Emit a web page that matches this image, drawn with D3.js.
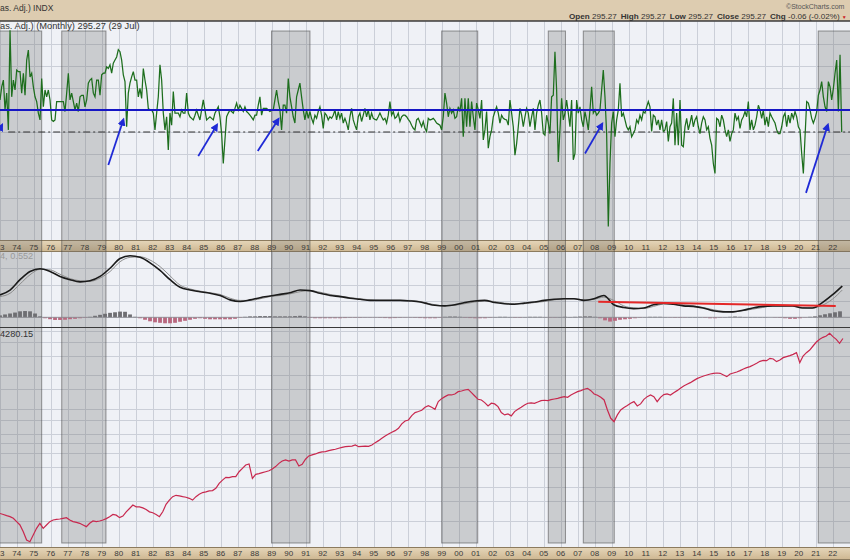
<!DOCTYPE html>
<html><head><meta charset="utf-8">
<script src="https://cdn.jsdelivr.net/npm/d3@7"></script>
<style>
html,body{margin:0;padding:0;background:#fff;}
svg{display:block;}
text{font-family:"Liberation Sans",Arial,sans-serif;}
</style></head>
<body>
<svg id="chart" width="850" height="560"></svg>
<script>
// ---------------- DATA ----------------
const yearTicks = d3.range(1973, 2023);

// Top panel: monthly change line (3 consecutive stretches)
const greenPeriods = [[1973.02, 1990.66], [1990.66, 2008.31], [2008.31, 2022.53]];
const greenA = [0.61,0.86,0.99,0.42,0.74,0.04,1.94,0.67,0.99,0.80,
1.18,1.15,1.15,0.74,1.12,0.70,1.37,1.56,1.05,1.12,
0.86,0.67,0.58,0.36,0.23,1.02,0.48,0.80,0.67,0.80,
0.61,0.23,0.20,0.23,0.58,0.58,0.58,0.58,0.58,0.39,
0.74,1.12,0.61,0.74,0.58,0.42,0.55,0.39,0.67,0.70,
0.70,0.48,0.61,0.93,0.99,1.02,0.74,0.67,0.99,0.99,
0.70,1.09,1.12,1.12,1.24,1.21,1.28,1.12,1.31,1.37,
1.43,1.57,1.53,1.37,1.09,0.96,0.10,0.74,0.93,1.05,
1.15,0.99,0.99,0.67,0.83,0.64,1.21,0.99,0.80,0.45,
0.42,0.42,0.36,0.04,0.36,0.67,1.28,0.99,0.36,0.04,
0.29,-0.34,0.36,0.13,0.77,0.36,0.36,0.36,0.29,0.42,
0.36,0.36,0.74,0.36,0.29,0.26,0.23,0.32,0.42,0.32,
0.23,0.42,0.61,0.42,0.23,0.26,0.29,0.26,0.23,0.36,
0.42,0.48,0.29,-0.03,-0.60,-0.15,0.29,0.36,0.42,0.39,
0.36,0.45,0.55,0.42,0.51,0.45,0.39,0.48,0.39,0.36,
0.32,0.28,0.23,0.32,0.32,0.51,0.67,0.32,0.45,0.45,
0.45,0.42,0.39,0.41,0.42,0.61,0.80,0.58,0.42,0.04,
0.51,0.51,0.36,1.02,0.67,0.48,0.29,0.17,0.67,0.80];
const greenB = [0.93,0.67,0.42,0.23,0.42,0.26,0.39,0.26,0.17,0.32,
0.26,0.39,0.48,0.32,0.07,0.36,0.32,0.23,0.29,0.26,
0.32,0.42,0.23,0.39,0.26,0.36,0.17,0.26,0.17,0.04,
0.29,0.45,0.23,0.13,0.04,0.29,0.36,0.20,0.32,0.45,
0.29,0.42,0.23,0.36,0.26,0.24,0.23,0.29,0.36,0.29,
0.23,0.26,0.17,0.32,0.58,0.32,0.39,0.26,0.29,0.36,
0.20,0.29,0.32,0.32,0.29,0.24,0.20,0.13,0.07,0.04,
0.23,0.26,0.18,0.10,0.20,0.07,0.01,0.26,0.23,0.24,
0.26,0.22,0.17,0.15,0.13,0.04,0.29,0.74,0.55,0.29,
0.45,0.36,0.42,0.26,0.29,0.48,0.39,0.64,-0.09,0.64,
0.10,0.64,0.10,0.58,0.29,0.04,0.55,0.42,0.26,0.61,
-0.15,0.04,0.39,-0.31,-0.09,0.04,0.29,0.39,0.48,0.36,
0.17,0.32,0.26,0.24,0.23,0.13,0.61,0.36,0.10,-0.44,
-0.22,0.10,0.45,0.32,0.10,0.29,0.45,0.36,0.10,0.29,
0.45,0.04,0.36,0.51,0.61,0.36,-0.03,-0.06,0.32,0.17,
-0.03,0.67,0.70,1.53,0.80,-0.57,0.04,0.64,0.23,0.36,
0.61,0.36,0.10,0.61,-0.53,-0.41,0.61,0.36,0.48,0.23,
0.10,0.39,0.23,0.04,0.42,0.86,0.36,0.42,0.32,0.36];
const greenC = [0.42,0.80,1.18,0.67,-0.03,-1.80,-0.60,0.17,0.39,-0.09,
0.23,0.42,0.93,0.29,0.36,0.23,0.10,0.04,0.10,-0.09,
-0.03,0.04,0.23,0.17,0.32,0.23,0.39,0.36,0.48,0.58,
0.48,0.01,0.32,0.29,0.13,0.23,0.04,0.23,0.01,0.04,
0.20,-0.18,0.10,0.17,0.64,-0.25,0.36,-0.25,0.61,-0.25,
-0.28,0.10,0.26,0.04,0.17,0.32,0.10,0.23,0.29,0.10,
-0.03,0.17,0.29,0.23,0.04,0.10,-0.12,-0.25,-0.60,-0.79,
0.26,0.23,0.10,0.32,0.23,0.04,-0.09,0.04,-0.18,-0.03,
0.04,0.36,0.23,0.29,0.07,0.23,0.29,0.39,0.29,0.58,
0.04,0.23,0.04,0.13,0.29,0.51,0.42,0.26,0.42,0.13,
0.29,0.10,0.36,0.29,0.23,0.17,0.04,-0.03,-0.03,0.10,
0.29,0.36,0.10,0.32,0.17,0.36,0.26,0.39,0.29,0.10,
0.04,-0.41,-0.79,-0.09,0.58,0.55,0.42,0.26,0.17,0.26,
0.39,0.70,0.80,0.96,0.67,0.48,0.39,0.96,0.86,0.61,
0.83,1.12,1.37,0.39,1.47,0.00];
const blueLevel = 0.42;
const dashLevel = 0;
const dashStart = 1973.5;

// annotation arrows [year, value] -> [year, value]
const arrowFrom = [[1972.20,-0.45],[1979.39,-0.63],[1984.68,-0.46],[1988.18,-0.36],[2007.43,-0.41],[2020.43,-1.16]];
const arrowTo   = [[1973.13, 0.13],[1980.27, 0.23],[1985.77, 0.13],[1989.39, 0.24],[2008.43, 0.15],[2021.71, 0.13]];

// Shaded periods
const shadeStart = [1972.90, 1976.65, 1988.99, 1999.00, 2005.27, 2007.33, 2021.15];
const shadeEnd   = [1975.47, 1979.25, 1991.25, 2001.12, 2006.28, 2009.15, 2023.30];

// Middle panel: MACD line, signal, histogram
const macdPeriods = [[1973.02, 1997.73], [1998.02, 2022.56]];
const macdA = [0.41,0.50,0.69,0.84,0.89,0.84,0.75,0.69,0.65,0.67,0.75,0.90,1.08,1.13,1.10,1.00,0.86,0.69,0.55,0.50,0.47,0.44,0.40,0.32,0.29,0.32,0.36,0.39,0.42,0.45,0.50,0.49,0.44,0.40,0.38,0.35,0.33,0.31,0.31,0.31,0.31,0.30,0.28];
const macdB = [0.26,0.22,0.21,0.23,0.27,0.30,0.31,0.27,0.25,0.24,0.26,0.28,0.31,0.33,0.34,0.34,0.31,0.34,0.40,0.23,0.18,0.16,0.17,0.23,0.26,0.24,0.21,0.20,0.17,0.12,0.10,0.10,0.13,0.17,0.20,0.21,0.21,0.21,0.17,0.17,0.27,0.41,0.574];
const signalA = [0.38,0.44,0.61,0.78,0.88,0.87,0.79,0.71,0.67,0.66,0.72,0.84,1.02,1.10,1.11,1.05,0.93,0.76,0.59,0.52,0.48,0.45,0.42,0.35,0.31,0.31,0.34,0.38,0.40,0.43,0.47,0.49,0.46,0.42,0.39,0.36,0.34,0.32,0.31,0.31,0.31,0.31,0.29];
const signalB = [0.27,0.23,0.21,0.22,0.25,0.28,0.30,0.29,0.26,0.25,0.25,0.27,0.29,0.32,0.34,0.34,0.32,0.33,0.37,0.31,0.21,0.17,0.16,0.20,0.24,0.24,0.23,0.21,0.18,0.14,0.11,0.10,0.12,0.15,0.18,0.21,0.21,0.21,0.18,0.17,0.22,0.33,0.50];
const histPeriod = [1973.02, 2022.43];
const histValues = [0.02,0.03,0.04,0.05,0.063,0.066,0.063,0.04,0.01,-0.01,
-0.02,-0.028,-0.028,-0.026,-0.02,-0.016,-0.01,-0.005,0.005,0.016,
0.026,0.037,0.047,0.053,0.06,0.058,0.03,0.005,-0.01,-0.026,
-0.042,-0.053,-0.058,-0.063,-0.063,-0.058,-0.047,-0.037,-0.026,-0.016,
-0.01,-0.016,-0.021,-0.021,-0.021,-0.021,-0.021,-0.016,-0.005,0.005,
0.01,0.01,0.013,0.013,0.013,0.01,0.01,0.01,0.01,0.013,
0.016,0.01,-0.005,-0.01,-0.01,-0.01,-0.01,-0.01,-0.01,-0.008,
-0.005,-0.005,-0.005,-0.003,-0.003,-0.003,-0.005,-0.008,-0.01,-0.008,
-0.005,-0.003,-0.003,-0.005,-0.008,-0.01,-0.01,-0.01,-0.005,0.005,
0.008,0.008,0.005,-0.005,-0.008,-0.01,-0.01,-0.01,-0.005,0.003,
0.005,0.005,0.003,-0.005,-0.005,0.003,0.005,0.005,0.005,0.003,
-0.003,-0.003,0.003,0.005,0.003,0.005,0.008,0.01,0.01,0.005,
-0.01,-0.032,-0.045,-0.037,-0.026,-0.021,-0.016,-0.01,-0.005,0.003,
0.005,0.005,0.005,0.003,-0.003,-0.005,-0.005,-0.003,0.003,0.003,
0.003,-0.005,-0.01,-0.01,-0.005,0.003,0.005,0.008,0.005,0.003,
0.003,0.003,0.003,0.003,0,-0.003,-0.005,-0.01,-0.016,-0.016,
-0.01,-0.003,0.005,0.01,0.021,0.032,0.042,0.053,0.063];
const trendFrom = [2008.21, 0.286];
const trendTo = [2022.18, 0.207];

// Bottom panel: price (log scale)
const pricePeriods = [[1973.02, 1998.02], [1998.02, 2022.60]];
const priceA = [116,113.6,110.9,108.6,105,98,91.5,79.7,67.1,64.8,
74.4,85.4,94.7,85.4,91.5,98,101.4,102.8,103.5,105,
106.4,101.4,98,96.6,94.7,91.5,88.4,94.7,99.3,98,
99.3,101.4,104.3,108.6,113.6,112,106.4,110,120,128.5,
138,133,133,130.3,126,120,117.7,113.6,108.6,120,
140,153,164,168.7,166.5,164,162,158.5,153,164,
172.5,178.6,181,185,186,195,216,231,244.7,243,
248,248,274.5,294,315,322,239.5,260,263.5,269,
274.5,280,290,305,326,342,350,342,350,350,
309,320,355,380,388,396,407,413,416,424,
430,436,445,454,460,463,466,476,460,463,
466,463,476,500,521,547,574,598,619,640,
672,736,782,798,873,929,950,974];
const priceB = [1037,1073,1037,995,1165,1238,1291,1336,1336,1364,
1431,1451,1481,1502,1402,1309,1222,1206,1142,1066,
1126,1111,1051,929,886,904,868,948,995,1037,
1088,1126,1134,1126,1157,1190,1198,1190,1214,1230,
1247,1273,1291,1273,1336,1383,1431,1461,1502,1533,
1461,1364,1327,1273,1206,981,826,771,886,981,
1030,1073,1126,1165,1066,1111,1222,1291,1336,1291,
1165,1273,1346,1364,1336,1402,1461,1533,1607,1664,
1723,1796,1871,1923,1977,2018,2060,2088,2102,2088,
2018,1950,2060,2102,2146,2206,2283,2347,2396,2481,
2566,2675,2730,2712,2845,2806,2657,2749,2884,2944,
3005,3089,3197,2603,2985,3197,3377,3668,3983,4209,
4386,4508,4764,4446,4209,3874,4280.15];
const priceGrid = [100,150,200,300,400,500,600,800,1000,1500,2000,3000,4000,5000];

// Texts
const headerLeft = "as. Adj.) INDX";
const panelTitle = "as. Adj.) (Monthly) 295.27 (29 Jul)";
const macdLabel = "4, 0.552";
const priceLabel = "4280.15";
const quote = [["Open","295.27"],["High","295.27"],["Low","295.27"],["Close","295.27"],["Chg","-0.06 (-0.02%)"]];

// ---------------- LAYOUT ----------------
const W = 850, H = 560;
const P1 = {top: 21.5, bottom: 240};
const A1 = {top: 240, bottom: 252};
const P2 = {top: 252, bottom: 327.5};
const P3 = {top: 327.5, bottom: 547};
const A2 = {top: 547, bottom: 560};

const svg = d3.select('#chart');
const x = d3.scaleLinear().domain([1973.018, 2023.018]).range([0, W]);
const yTop = d3.scaleLinear().domain([-2, 2]).range([237, 27]);
const yMid = d3.scaleLinear().domain([-0.2, 1.2]).range([328.2, 251.9]);
const yHist = d3.scaleLinear().domain([-0.14, 0.14]).range([330.6, 304]);
const yPrice = d3.scaleLog().domain([58.1, 5317]).range([547, 328]);

function spread(values, period, inclusive) {
  const n = values.length, step = (period[1] - period[0]) / (inclusive ? n - 1 : n);
  return values.map((v, i) => ({t: period[0] + i * step, v}));
}
const green = [].concat(spread(greenA, greenPeriods[0], false), spread(greenB, greenPeriods[1], false), spread(greenC, greenPeriods[2], true));
const macd = [].concat(spread(macdA, macdPeriods[0], true), spread(macdB, macdPeriods[1], true));
const signal = [].concat(spread(signalA, macdPeriods[0], true), spread(signalB, macdPeriods[1], true));
const hist = spread(histValues, histPeriod, true);
const price = [].concat(spread(priceA, pricePeriods[0], false), spread(priceB, pricePeriods[1], true));

const defs = svg.append('defs');
const tanGrad = defs.append('linearGradient').attr('id','tan').attr('x1',0).attr('x2',0).attr('y1',0).attr('y2',1);
tanGrad.append('stop').attr('offset','0%').attr('stop-color','#e6d7bb');
tanGrad.append('stop').attr('offset','100%').attr('stop-color','#cdb690');
defs.append('marker').attr('id','ah').attr('viewBox','0 0 10 10').attr('refX',7).attr('refY',5)
  .attr('markerWidth',4.5).attr('markerHeight',4.5).attr('orient','auto')
  .append('path').attr('d','M0,0L10,5L0,10z').attr('fill','#1f2ad6');
[['c1',P1],['c2',P2],['c3',P3]].forEach(([id,p]) => {
  defs.append('clipPath').attr('id',id).append('rect').attr('x',0).attr('y',p.top).attr('width',W).attr('height',p.bottom-p.top);
});

// backgrounds
svg.append('rect').attr('x',0).attr('y',0).attr('width',W).attr('height',21).attr('fill','#ddccb0');
[P1,P2,P3].forEach(p => svg.append('rect').attr('x',0).attr('y',p.top).attr('width',W).attr('height',p.bottom-p.top).attr('fill','#eff1f6'));
[A1,A2].forEach(a => {
  svg.append('rect').attr('x',0).attr('y',a.top).attr('width',W).attr('height',a.bottom-a.top).attr('fill','url(#tan)');
  svg.append('line').attr('x1',0).attr('x2',W).attr('y1',a.top+0.5).attr('y2',a.top+0.5).attr('stroke','#8c7b5e');
  svg.append('line').attr('x1',0).attr('x2',W).attr('y1',a.bottom-0.5).attr('y2',a.bottom-0.5).attr('stroke','#8c7b5e');
});

// grids
const grid = svg.append('g').attr('stroke','#cbcfd8').attr('stroke-width',1);
[P1,P2,P3].forEach(p => {
  grid.selectAll(null).data(yearTicks).enter().append('line')
    .attr('x1',d=>Math.round(x(d))+0.5).attr('x2',d=>Math.round(x(d))+0.5)
    .attr('y1',p.top).attr('y2',p.bottom);
});
grid.selectAll(null).data(d3.range(-4,5).map(k=>k*0.42)).enter().append('line')
  .attr('x1',0).attr('x2',W).attr('y1',d=>Math.round(yTop(d))+0.5).attr('y2',d=>Math.round(yTop(d))+0.5);
grid.selectAll(null).data([0,0.3,0.6,0.9]).enter().append('line')
  .attr('x1',0).attr('x2',W).attr('y1',d=>Math.round(yMid(d))+0.5).attr('y2',d=>Math.round(yMid(d))+0.5);
grid.selectAll(null).data(priceGrid).enter().append('line')
  .attr('x1',0).attr('x2',W).attr('y1',d=>Math.round(yPrice(d))+0.5).attr('y2',d=>Math.round(yPrice(d))+0.5);

// shaded periods
svg.append('g').selectAll('rect').data(shadeStart).enter().append('rect')
  .attr('x',(d)=>x(d)).attr('width',(d,i)=>x(shadeEnd[i])-x(d))
  .attr('y',31).attr('height',543-31)
  .attr('fill','rgba(105,105,105,0.27)').attr('stroke','rgba(70,70,70,0.55)').attr('stroke-width',1);

// panel separators
svg.append('line').attr('x1',0).attr('x2',W).attr('y1',21).attr('y2',21).attr('stroke','#3a3a3a').attr('stroke-width',1.5);
svg.append('line').attr('x1',0).attr('x2',W).attr('y1',327.5).attr('y2',327.5).attr('stroke','#3a3a3a').attr('stroke-width',1.2);

// year labels (the first year sits at the left edge; only its visible digit is shown, as in the reference)
[[A1, 249.5],[A2, 556]].forEach(([a, yy]) => {
  svg.append('g').selectAll('text').data(yearTicks).enter().append('text')
    .attr('x',d=> d === yearTicks[0] ? 0 : x(d)).attr('y',yy)
    .attr('text-anchor',d=> d === yearTicks[0] ? 'start' : 'middle')
    .attr('font-size',8).attr('fill','#3a3a3a')
    .text(d=> d === yearTicks[0] ? String(d%10) : String(d%100).padStart(2,'0'));
});

// top panel
const g1 = svg.append('g').attr('clip-path','url(#c1)');
g1.append('line').attr('x1',x(dashStart)).attr('x2',W).attr('y1',yTop(dashLevel)).attr('y2',yTop(dashLevel))
  .attr('stroke','#333').attr('stroke-width',1).attr('stroke-dasharray','7,3,2,3');
g1.append('path').datum(green).attr('fill','none').attr('stroke','#1d6e1d').attr('stroke-width',1.25)
  .attr('d', d3.line().x(d=>x(d.t)).y(d=>yTop(d.v)));
g1.append('line').attr('x1',0).attr('x2',W).attr('y1',yTop(blueLevel)).attr('y2',yTop(blueLevel))
  .attr('stroke','#1616c4').attr('stroke-width',2);
g1.selectAll('.arrow').data(arrowFrom).enter().append('line')
  .attr('x1',d=>x(d[0])).attr('y1',d=>yTop(d[1]))
  .attr('x2',(d,i)=>x(arrowTo[i][0])).attr('y2',(d,i)=>yTop(arrowTo[i][1]))
  .attr('stroke','#1f2ad6').attr('stroke-width',1.8).attr('marker-end','url(#ah)');

// middle panel
const g2 = svg.append('g').attr('clip-path','url(#c2)');
const barW = (x(hist[1].t) - x(hist[0].t)) - 1.2;
g2.selectAll('.hb').data(hist).enter().append('rect')
  .attr('x',d=>x(d.t)-barW/2).attr('width',barW)
  .attr('y',d=>Math.min(yHist(d.v), yHist(0))).attr('height',d=>Math.abs(yHist(d.v)-yHist(0)))
  .attr('fill',d=>d.v>=0 ? '#6e6e72' : '#b9687f');
g2.append('line').attr('x1',0).attr('x2',W).attr('y1',yHist(0)).attr('y2',yHist(0)).attr('stroke','#8a8a90').attr('stroke-width',0.8);
g2.append('path').datum(signal).attr('fill','none').attr('stroke','#8c8c8c').attr('stroke-width',1)
  .attr('d', d3.line().curve(d3.curveMonotoneX).x(d=>x(d.t)).y(d=>yMid(d.v)));
g2.append('path').datum(macd).attr('fill','none').attr('stroke','#1a1a1a').attr('stroke-width',1.6)
  .attr('d', d3.line().curve(d3.curveMonotoneX).x(d=>x(d.t)).y(d=>yMid(d.v)));
g2.append('line').attr('x1',x(trendFrom[0])).attr('y1',yMid(trendFrom[1])).attr('x2',x(trendTo[0])).attr('y2',yMid(trendTo[1]))
  .attr('stroke','#e42828').attr('stroke-width',2);

// bottom panel
const g3 = svg.append('g').attr('clip-path','url(#c3)');
g3.append('path').datum(price).attr('fill','none').attr('stroke','#c8284e').attr('stroke-width',1.2)
  .attr('d', d3.line().x(d=>x(d.t)).y(d=>yPrice(d.v)));

// texts
const wide = '"DejaVu Sans",Verdana,sans-serif';
svg.append('text').attr('x',0).attr('y',10.5).attr('font-size',8.5).attr('fill','#333').text(headerLeft);
svg.append('text').attr('x',0).attr('y',29.3).attr('font-size',9.3).attr('font-family',wide).attr('fill','#333').text(panelTitle);
svg.append('text').attr('x',0).attr('y',259.3).attr('font-size',9.2).attr('font-family',wide).attr('fill','#9a9a9a').text(macdLabel);
svg.append('text').attr('x',0).attr('y',337.3).attr('font-size',9.2).attr('font-family',wide).attr('fill','#333').text(priceLabel);
svg.append('text').attr('x',786).attr('y',9).attr('font-size',7).attr('fill','#555').text('\u00A9StockCharts.com');
const q = svg.append('text').attr('x',569).attr('y',19).attr('font-size',8.1).attr('fill','#333');
quote.forEach(([k,v],i) => {
  q.append('tspan').attr('font-weight','bold').attr('dx', i===0?0:4).text(k+' ');
  q.append('tspan').text(v);
});
q.append('tspan').attr('dx',2).attr('font-size',5).attr('fill','#c22').text('\u25BC');
</script>
</body></html>
